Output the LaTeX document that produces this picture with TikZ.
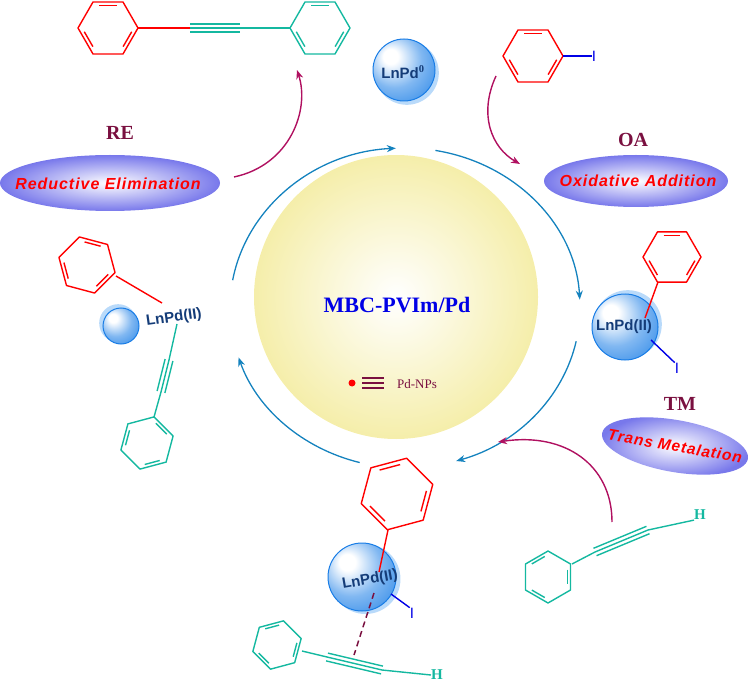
\documentclass[tikz,border=0pt]{standalone}
\usepackage{fontspec}
\setmainfont{Liberation Serif}
\setsansfont{Liberation Sans}
\newfontfamily\spacedsans[LetterSpace=6]{Liberation Sans}
\usetikzlibrary{arrows.meta,calc}
\definecolor{cyc}{RGB}{20,130,190}
\definecolor{mag}{RGB}{176,16,96}
\definecolor{teal2}{RGB}{20,184,160}
\definecolor{maroon}{RGB}{122,16,64}
\definecolor{navy}{RGB}{20,60,120}
\definecolor{iblue}{RGB}{0,0,230}
\definecolor{ellc}{RGB}{120,120,235}
\definecolor{sph}{RGB}{25,125,230}
\definecolor{sphsh}{RGB}{185,218,250}
\definecolor{yel}{RGB}{245,238,170}
\pgfdeclareradialshading{sphs}{\pgfpoint{-12bp}{12bp}}{color(0bp)=(white); color(6bp)=(white); color(22bp)=(sph!55!white); color(40bp)=(sph!90!white); color(62bp)=(sph)}
\newcommand\benz[5]{%
  \draw[#5,line width=1.4pt,line join=round] (#1,#2)+(#4:#3) \foreach \k in {1,...,5}{ -- +(#4+60*\k:#3)} -- cycle;
  \foreach \k in {0,2,4}{\draw[#5,line width=1.4pt] (#1,#2)+(#4+60*\k+9:0.8*#3) -- +(#4+60*\k+51:0.8*#3);}}
\newcommand\tripb[3]{%
  \draw[#3,line width=1.4pt] (#1) -- (#2);
  \draw[#3,line width=1.4pt] ($(#1)!4pt!90:(#2)$) -- ($(#2)!4pt!-90:(#1)$);
  \draw[#3,line width=1.4pt] ($(#1)!4pt!-90:(#2)$) -- ($(#2)!4pt!90:(#1)$);}
\tikzset{
  cycarrow/.style={draw=cyc,line width=1.3pt,-{Stealth[length=9pt,width=7pt]}},
  magarrow/.style={draw=mag,line width=1.4pt,-{Stealth[length=9pt,width=7pt]}},
  steplbl/.style={font=\bfseries\fontsize{20}{22}\selectfont,text=maroon},
  elltext/.style={font=\spacedsans\bfseries\itshape\fontsize{16}{18}\selectfont,text=red},
  pdtext/.style={font=\sffamily\bfseries\fontsize{15}{16}\selectfont,text=navy,inner sep=0pt},
  ilbl/.style={font=\sffamily\fontsize{15}{16}\selectfont,text=iblue,inner sep=0pt},
  hlbl/.style={font=\bfseries\fontsize{15}{16}\selectfont,text=teal2,inner sep=0pt},
}
\newcommand\sphere[4]{% x y r shadow-offset-angle
  \fill[sphsh] (#1,#2)+(#4:4) circle (#3+1);
  \shade[shading=sphs] (#1,#2) circle (#3);
  \draw[sph,line width=1pt] (#1,#2) circle (#3);}
\begin{document}
\begin{tikzpicture}[x=1pt,y=-1pt]
\path[use as bounding box] (0,0) rectangle (751,684);
% central sphere
\shade[inner color=white,outer color=yel] (396,297) circle (142);
\node[font=\bfseries\fontsize{22}{24}\selectfont,text=iblue] (mbc) at (397,305) {MBC-PVIm/Pd};
\fill[red] (352,383) circle (3.5);
\foreach \yy in {378,383,388} \draw[maroon,line width=1.3pt] (362,\yy) -- (384,\yy);
\node[font=\fontsize{13}{14}\selectfont,text=maroon] (np) at (417,384) {Pd-NPs};
% cycle arcs
\draw[cycarrow] (405,308) ++(-170:175 and 160) arc[start angle=-170,end angle=-93,x radius=175,y radius=160];
\draw[cycarrow] (405,308) ++(-80:175 and 160) arc[start angle=-80,end angle=-3,x radius=175,y radius=160];
\draw[cycarrow] (405,308) ++(12:175 and 160) arc[start angle=12,end angle=73,x radius=175,y radius=160];
\draw[cycarrow] (405,308) ++(105:175 and 160) arc[start angle=105,end angle=162,x radius=175,y radius=160];
% LnPd0
\sphere{404}{70}{31}{45}
\node[pdtext] (pd0) at (403,72) {LnPd$^{\mathbf 0}$};
% product
\benz{108}{28}{30}{0}{red}
\benz{320}{28}{30}{0}{teal2}
\coordinate (p1) at (138,28); \coordinate (p2) at (190,28); \coordinate (p3) at (240,28); \coordinate (p4) at (290,28);
\draw[red,line width=1.4pt] (p1) -- (p2);
\tripb{p2}{p3}{teal2}
\draw[teal2,line width=1.4pt] (p3) -- (p4);
% iodobenzene
\benz{533}{56}{30}{0}{red}
\coordinate (ib1) at (563,56); \node[ilbl] (i1) at (594,56) {I};
\draw[iblue,line width=1.4pt] (ib1) -- (i1);
% ellipses
\shade[inner color=white,outer color=ellc] (110,183) ellipse (110 and 28);
\node[elltext] (re) at (108,184) {Reductive Elimination};
\node[steplbl] (rel) at (120,133) {RE};
\shade[inner color=white,outer color=ellc] (636,181) ellipse (92 and 26);
\node[elltext] (oa) at (638,181) {Oxidative Addition};
\node[steplbl] (oal) at (633,140) {OA};
\shade[inner color=white,outer color=ellc,rotate around={-10:(675,446)}] (675,446) ellipse (74 and 26);
\node[elltext,font=\spacedsans\bfseries\itshape\fontsize{15.5}{17}\selectfont,rotate=-10] (tm) at (675,446) {Trans Metalation};
\node[steplbl] (tml) at (680,404) {TM};
% magenta arrows
\coordinate (ra) at (234,177); \coordinate (rb) at (297,70);
\draw[magarrow] (ra) .. controls (290,165) and (310,110) .. (rb);
\coordinate (oa1) at (496,76); \coordinate (oa2) at (520,164);
\draw[magarrow] (oa1) .. controls (478,115) and (492,148) .. (oa2);
\coordinate (tm1) at (612,522); \coordinate (tm2) at (498,442);
\draw[magarrow] (tm1) .. controls (612,465) and (565,432) .. (tm2);
% right intermediate
\benz{672}{257}{29}{0}{red}
\sphere{625}{327}{33}{-45}
\coordinate (rp1) at (658,282); \coordinate (rp2) at (645,318);
\draw[red,line width=1.4pt] (rp1) -- (rp2);
\node[pdtext] (pdr) at (624,327) {LnPd(II)};
\node[ilbl] (i2) at (677,368) {I};
\coordinate (ri1) at (651,340);
\draw[iblue,line width=1.4pt] (ri1) -- (i2.north west);
% phenylacetylene
\benz{548}{577}{26}{-30}{teal2}
\coordinate (a1) at (572,564); \coordinate (a2) at (595,552); \coordinate (a3) at (648,530);
\node[hlbl] (h1) at (700,515) {H};
\draw[teal2,line width=1.4pt] (a1) -- (a2);
\tripb{a2}{a3}{teal2}
\draw[teal2,line width=1.4pt] (a3) -- (h1.south west);
% bottom intermediate
\benz{397}{494}{37}{-15}{red}
\sphere{362}{577}{34}{30}
\coordinate (b1) at (388,530); \coordinate (b2) at (379,572);
\draw[red,line width=1.4pt] (b1) -- (b2);
\node[pdtext,rotate=10] (pdb) at (370,580) {LnPd(II)};
\coordinate (bi1) at (391,594);
\node[ilbl] (i3) at (412,613) {I};
\draw[iblue,line width=1.4pt] (bi1) -- (i3.north west);
\benz{277}{645}{25}{-15}{teal2}
\coordinate (c1) at (302,651); \coordinate (c2) at (327,657); \coordinate (c3) at (382,670);
\node[hlbl] (h2) at (437,675) {H};
\draw[teal2,line width=1.4pt] (c1) -- (c2);
\tripb{c2}{c3}{teal2}
\draw[teal2,line width=1.4pt] (c3) -- (h2.west);
\coordinate (d1) at (374,593); \coordinate (d2) at (354,655);
\draw[maroon,line width=1.5pt,dash pattern=on 6pt off 4pt] (d1) -- (d2);
% left intermediate
\benz{87}{265}{29}{15}{red}
\sphere{121}{326}{18}{-135}
\node[pdtext,rotate=8] (pdl) at (174,318) {LnPd(II)};
\coordinate (l1) at (116,276); \coordinate (l2) at (162,303);
\draw[red,line width=1.4pt] (l1) -- (l2);
\benz{147}{443}{27}{-75}{teal2}
\coordinate (m1) at (177,324); \coordinate (m2) at (169,360); \coordinate (m3) at (161,392); \coordinate (m4) at (154,417);
\draw[teal2,line width=1.4pt] (m1) -- (m2);
\tripb{m2}{m3}{teal2}
\draw[teal2,line width=1.4pt] (m3) -- (m4);
\end{tikzpicture}
\end{document}
